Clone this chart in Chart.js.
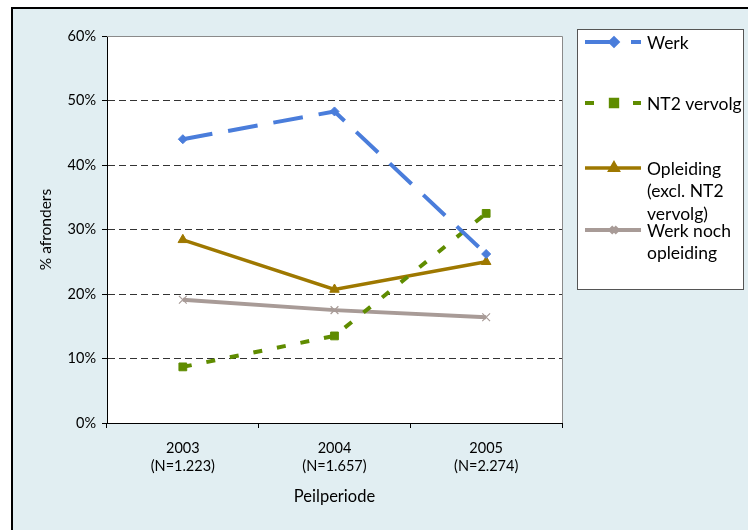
<!DOCTYPE html>
<html lang="nl">
<head>
    <meta charset="UTF-8">
    <title>afronders per peilperiode</title>
    <script src="https://cdn.jsdelivr.net/npm/chart.js@4.4.0/dist/chart.umd.min.js"></script>
    <style>
        body{
            margin: 0;
            padding: 0;
            background: white;
        }
        canvas{
            display: block;
        }
    </style>
</head>
<body>
    <canvas id="mychart" width="748" height="530"></canvas>
    <script>
        // waarden in procenten
        const periodes = [['2003', '(N=1.223)'], ['2004', '(N=1.657)'], ['2005', '(N=2.274)']];
        const werk = [44.0, 48.3, 26.2];
        const nt2Vervolg = [8.7, 13.5, 32.5];
        const opleiding = [28.4, 20.7, 25.0];
        const werkNochOpleiding = [19.1, 17.5, 16.4];
        const yTicks = [0, 10, 20, 30, 40, 50, 60];
        const legendLabels = [['Werk'], ['NT2 vervolg'], ['Opleiding', '(excl. NT2', 'vervolg)'], ['Werk noch', 'opleiding']];

        const FONT = 'Lato, "Open Sans", sans-serif';
        Chart.defaults.font.family = FONT;
        Chart.defaults.color = '#000';

        // achtergrond, kader en eigen legenda
        const decor = {
            id: 'decor',
            beforeDraw(chart) {
                const c = chart.ctx, a = chart.chartArea;
                c.save();
                c.fillStyle = '#ffffff';
                c.fillRect(0, 0, chart.width, chart.height);
                c.fillStyle = '#e1eef2';
                c.fillRect(12, 8, chart.width, chart.height);
                c.fillStyle = '#000';
                c.fillRect(11, 7, chart.width, 2);
                c.fillRect(11, 7, 2, chart.height);
                c.fillStyle = '#ffffff';
                c.fillRect(a.left, a.top, a.right - a.left, a.bottom - a.top);
                c.restore();
            },
            beforeDatasetsDraw(chart) {
                const c = chart.ctx, a = chart.chartArea;
                c.save();
                c.strokeStyle = '#8a8a8a';
                c.lineWidth = 1;
                c.beginPath();
                c.moveTo(a.left, a.top + 0.5);
                c.lineTo(a.right + 0.5, a.top + 0.5);
                c.lineTo(a.right + 0.5, a.bottom);
                c.stroke();
                c.restore();
            },
            afterDraw(chart) {
                const c = chart.ctx;
                c.save();
                c.fillStyle = '#fff';
                c.fillRect(577, 29, 167, 261);
                c.strokeStyle = '#555';
                c.lineWidth = 1;
                c.strokeRect(577.5, 29.5, 166, 260);
                const rows = [42, 103, 168, 230];
                chart.data.datasets.forEach((ds, i) => {
                    const y = rows[i];
                    c.save();
                    c.strokeStyle = ds.borderColor;
                    c.lineWidth = ds.borderWidth;
                    c.setLineDash(ds.borderDash || []);
                    c.beginPath();
                    c.moveTo(585, y);
                    c.lineTo(641, y);
                    c.stroke();
                    c.setLineDash([]);
                    c.fillStyle = ds.pointBackgroundColor;
                    c.strokeStyle = ds.pointBorderColor;
                    Chart.helpers.drawPoint(c, {
                        pointStyle: ds.pointStyle,
                        radius: ds.pointRadius - 1,
                        rotation: 0,
                        borderWidth: ds.pointBorderWidth
                    }, 614, y);
                    c.restore();
                    c.fillStyle = '#000';
                    c.font = '17.5px ' + FONT;
                    c.textBaseline = 'middle';
                    legendLabels[i].forEach((t, j) => c.fillText(t, 647, y + 1 + j * 22.5));
                });
                c.restore();
            }
        };

        const ctx = document.getElementById('mychart').getContext('2d');
        const linechart = new Chart(ctx, {
            type: 'line',
            data: {
                labels: periodes,
                datasets: [{
                    label: legendLabels[0].join(' '),
                    data: werk,
                    borderColor: '#4a7ddb',
                    borderWidth: 4,
                    borderDash: [30, 16],
                    pointStyle: 'rectRot',
                    pointRadius: 4.5,
                    pointBackgroundColor: '#4a7ddb',
                    pointBorderColor: '#4a7ddb',
                    pointBorderWidth: 1
                }, {
                    label: legendLabels[1].join(' '),
                    data: nt2Vervolg,
                    borderColor: '#5f8c00',
                    borderWidth: 4,
                    borderDash: [9, 15],
                    pointStyle: 'rect',
                    pointRadius: 5.5,
                    pointBackgroundColor: '#5f8c00',
                    pointBorderColor: '#5f8c00',
                    pointBorderWidth: 1
                }, {
                    label: legendLabels[2].join(' '),
                    data: opleiding,
                    borderColor: '#9e7800',
                    borderWidth: 3.5,
                    pointStyle: 'triangle',
                    pointRadius: 5.5,
                    pointBackgroundColor: '#9e7800',
                    pointBorderColor: '#9e7800',
                    pointBorderWidth: 1
                }, {
                    label: legendLabels[3].join(' '),
                    data: werkNochOpleiding,
                    borderColor: '#a89b97',
                    borderWidth: 4,
                    pointStyle: 'crossRot',
                    pointRadius: 5.5,
                    pointBackgroundColor: '#a89b97',
                    pointBorderColor: '#a89b97',
                    pointBorderWidth: 1.2
                }]
            },
            options: {
                responsive: false,
                animation: false,
                tension: 0,
                layout: {
                    padding: {left: 0, top: 36, right: 186, bottom: 0}
                },
                plugins: {
                    legend: {display: false},
                    tooltip: {enabled: false}
                },
                scales: {
                    x: {
                        offset: true,
                        afterFit: s => { s.height = 107; },
                        grid: {
                            display: true,
                            offset: true,
                            drawOnChartArea: false,
                            drawTicks: true,
                            tickLength: 5,
                            tickColor: '#000'
                        },
                        border: {color: '#000', width: 1},
                        ticks: {
                            padding: 11,
                            font: {size: 14.5, lineHeight: 1.25},
                            maxRotation: 0
                        },
                        title: {
                            display: true,
                            text: 'Peilperiode',
                            font: {size: 16.5, lineHeight: 1.2},
                            padding: {top: 0, bottom: 23}
                        }
                    },
                    y: {
                        min: yTicks[0],
                        max: yTicks[yTicks.length - 1],
                        afterFit: s => { s.width = 107; },
                        afterBuildTicks: s => { s.ticks = yTicks.map(v => ({value: v})); },
                        grid: {
                            color: c => (c.tick && c.tick.value === 60) ? '#8a8a8a' : '#333',
                            lineWidth: 1,
                            drawTicks: true,
                            tickLength: 5,
                            tickColor: '#000',
                            tickBorderDash: []
                        },
                        border: {
                            color: '#000',
                            width: 1,
                            dash: c => (c.tick && c.tick.value !== 60) ? [7, 4] : []
                        },
                        ticks: {
                            padding: 6,
                            font: {size: 14.5},
                            callback: v => v + '%'
                        },
                        title: {
                            display: true,
                            text: '% afronders',
                            font: {size: 15.5, lineHeight: 1.2},
                            padding: {top: 37, bottom: 0}
                        }
                    }
                }
            },
            plugins: [decor]
        });
    </script>
</body>
</html>
